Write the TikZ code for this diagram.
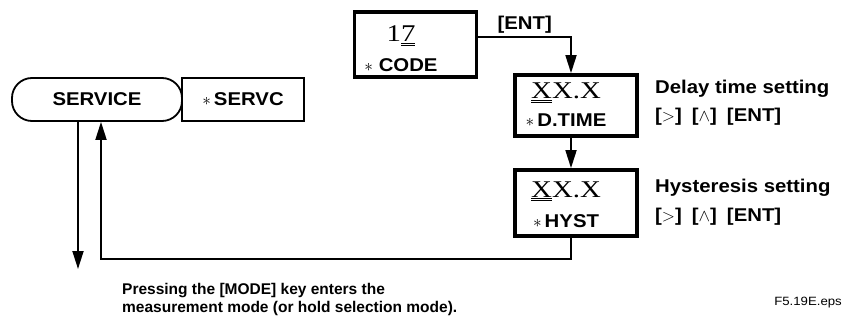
\documentclass[tikz,border=0pt]{standalone}
\usepackage{fontspec}
\usepackage{tikz}
\usetikzlibrary{arrows.meta, positioning}

\newfontfamily\lblfont{Liberation Sans}[FakeStretch=1.1]
\newfontfamily\capfont{Liberation Sans}
\newfontfamily\lcdfont{Liberation Serif}[FakeStretch=1.2]
\newcommand{\dline}[1]{\underline{\underline{#1}}}
\newcommand{\smallast}{{\fontsize{19}{19}\selectfont$\ast$}}

\begin{document}
\begin{tikzpicture}[x=1pt, y=-1pt,
    panel/.style={rectangle, draw=black, line width=3.8pt, minimum width=122pt},
    menu/.style={rectangle, draw=black, line width=1.8pt, minimum height=43pt, font=\lblfont\bfseries\fontsize{18.5}{20}\selectfont},
    lcd/.style={font=\lcdfont\fontsize{24}{26}\selectfont, inner sep=0pt, anchor=base},
    tag/.style={font=\lblfont\bfseries\fontsize{18.5}{20}\selectfont, inner sep=0pt, anchor=base},
    note/.style={tag, anchor=base west},
    flow/.style={-{Triangle[length=18pt, width=11pt]}, line width=1.8pt}
]
\useasboundingbox (0,0) rectangle (850,320);

% service menu on the left
\node[menu, rounded corners=20pt, minimum width=170pt] (service) at (97,99.5) {SERVICE};
\node[menu, minimum width=122pt, right=-1.8pt of service] (servc) {\smallast\,SERVC};

% code entry and the two settings
\node[panel, minimum height=65pt] (code) at (415.5,44.5) {};
\node[lcd] (code-val) at (401,42) {1\dline{7}};
\node[tag] (code-lbl) at (401,72) {\smallast\ CODE};

\node[panel, minimum height=61pt] (dtime) at (576,105.5) {};
\node[lcd] (dtime-val) at (566,99) {\dline{X}X.X};
\node[tag] (dtime-lbl) at (566,127) {\smallast\,D.TIME};

\node[panel, minimum height=66pt] (hyst) at (576,203) {};
\node[lcd] (hyst-val) at (566,197) {\dline{X}X.X};
\node[tag] (hyst-lbl) at (566,228) {\smallast\,HYST};

% key hints
\node[note] (delay) at (655,94) {Delay time setting};
\node[note] (delay-keys) at (655,122) {[$>$]\hspace{10pt}[$\wedge$]\hspace{10pt}[ENT]};
\node[note] (hys) at (655,193) {Hysteresis setting};
\node[note] (hys-keys) at (655,222) {[$>$]\hspace{10pt}[$\wedge$]\hspace{10pt}[ENT]};

\node[anchor=north west, inner sep=0pt, align=left, font=\capfont\bfseries\fontsize{15.5}{18}\selectfont] (modenote) at (122,283) {Pressing the [MODE] key enters the\\measurement mode (or hold selection mode).};
\node[anchor=base east, inner sep=0pt, font=\lblfont\fontsize{12}{14}\selectfont] (fname) at (842,305) {F5.19E.eps};

\coordinate (back) at (101,259);
\coordinate (exit) at (78,269);

\draw[flow] ([yshift=7.5pt]code.east) -| ([xshift=-5pt]dtime.north) node[tag, pos=0.25, above=3pt] (ent-key) {[ENT]};
\draw[flow] ([xshift=-5pt]dtime.south) -- ([xshift=-5pt]hyst.north);
\draw[flow] ([xshift=-5pt]hyst.south) |- (back) -- (back |- service.south);
\draw[flow] (service.south -| exit) -- (exit);
\end{tikzpicture}
\end{document}
